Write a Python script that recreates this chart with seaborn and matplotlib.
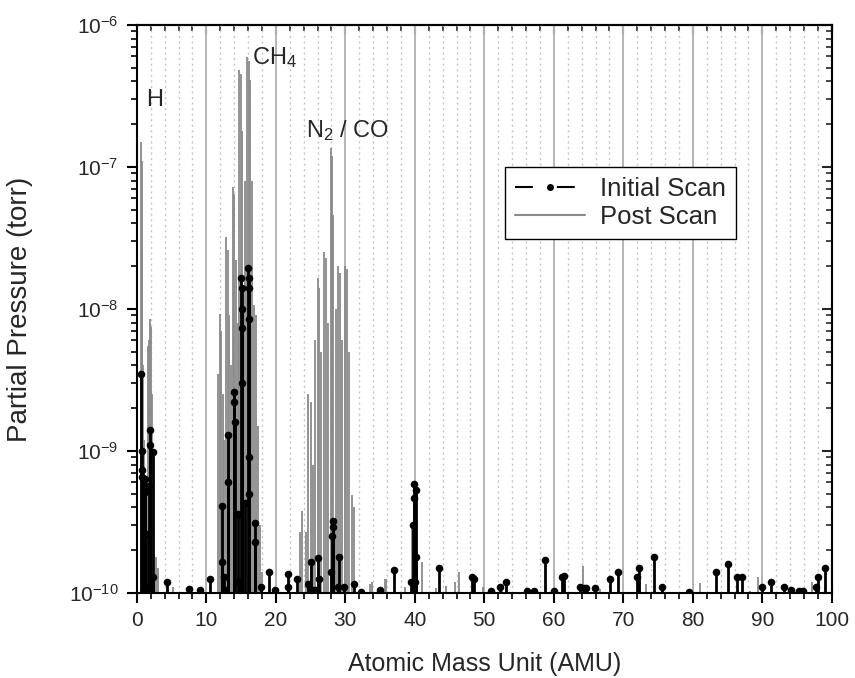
import numpy as np
import pandas as pd
import matplotlib
matplotlib.use("Agg")
import matplotlib.pyplot as plt
import seaborn as sns
from matplotlib.lines import Line2D
from matplotlib.ticker import MultipleLocator, LogLocator, NullFormatter

sns.set_theme(style="white")
plt.rcParams['font.family'] = ['Liberation Sans', 'DejaVu Sans']
plt.rcParams['mathtext.fontset'] = 'custom'
plt.rcParams['mathtext.rm'] = 'Liberation Sans'
plt.rcParams['mathtext.it'] = 'Liberation Sans:italic'
plt.rcParams['mathtext.bf'] = 'Liberation Sans:bold'

# ---- data ----
post_amu = [0.6, 0.7, 0.8, 0.95, 1.1, 1.3, 1.6, 1.8, 1.95, 2.1, 2.25, 2.4, 2.7, 3.0, 5.2, 7.8,
            11.7, 11.9, 12.1, 12.35, 12.6, 12.85, 13.05, 13.3, 13.55, 13.85, 14.05, 14.3, 14.5,
            14.75, 14.95, 15.2, 15.5, 15.85, 16.1, 16.3, 16.6, 16.9, 17.1, 17.4, 17.7, 18.0,
            23.5, 23.8, 24.3, 24.7, 25.0, 25.3, 25.7, 26.0, 26.2, 26.5, 26.9, 27.2, 27.5, 27.9,
            28.1, 28.3, 28.6, 29.0, 29.2, 29.5, 29.9, 30.2, 30.5, 30.9, 31.3, 33.6, 33.8, 35.7,
            35.8, 38.6, 39.6, 40.2, 41.0, 43.1, 44.5, 45.8, 46.4, 49.8, 52.5, 61.6, 64.2, 66.6,
            72.4, 73.2, 81.0, 88.2, 89.4, 97.2]
post_pp = [1.5e-7, 1.1e-7, 2.6e-8, 4e-9, 1.2e-9, 4e-10, 5.5e-9, 6e-9, 8.5e-9, 7.5e-9, 2.5e-9, 2.9e-10, 1.8e-10, 1.5e-10, 1.1e-10, 1.12e-10,
           3.5e-9, 9.2e-9, 7e-9, 2.5e-9, 1.2e-9, 3.2e-8, 2.6e-8, 9e-9, 4e-9, 7.2e-8, 6.5e-8, 2.2e-8, 8e-9,
           4.8e-7, 4.5e-7, 1.8e-7, 8e-8, 5.9e-7, 5.6e-7, 4.1e-7, 8e-8, 1.07e-8, 9e-9, 1.5e-9, 3e-10, 1.4e-10,
           2.7e-10, 3.8e-10, 2.7e-10, 2.5e-9, 2.2e-9, 8e-10, 6e-9, 1.65e-8, 1.4e-8, 5e-9, 2.5e-8, 2.3e-8, 8e-9, 1.36e-7,
           1.2e-7, 4.6e-8, 1e-8, 2e-8, 1.8e-8, 6e-9, 2e-8, 1.9e-8, 5e-9, 4.9e-10, 4e-10, 1.15e-10, 1.2e-10, 1.25e-10,
           1.25e-10, 1.1e-10, 3e-10, 2e-10, 1.65e-10, 1.08e-10, 1.12e-10, 1.2e-10, 1.4e-10, 1.1e-10, 1.1e-10, 1.08e-10, 1.55e-10, 1.07e-10,
           1.2e-10, 1.15e-10, 1.17e-10, 1.04e-10, 1.3e-10, 1.2e-10]

init_amu = [0.65, 0.7, 0.75, 0.8, 1.1, 1.15, 1.2, 1.4, 1.6, 1.75, 1.9, 1.95, 2.3, 2.4,
            4.4, 7.5, 9.1, 10.5,
            12.2, 12.25, 12.5, 12.7, 13.1, 13.15, 14.0, 14.05, 14.1, 14.6, 14.65,
            15.05, 15.08, 15.1, 15.12, 15.15, 15.5, 16.05, 16.08, 16.1, 16.12, 16.15, 16.2,
            17.0, 17.05, 17.9, 19.0, 19.9,
            21.7, 21.75, 23.0, 24.7, 25.0, 25.2, 25.6, 26.1, 26.15, 27.9, 28.15, 28.2, 28.25,
            29.0, 29.1, 29.8, 31.2, 32.3, 35.0, 37.0,
            39.4, 39.8, 39.85, 39.9, 40.0, 40.1, 40.15, 43.5, 48.2, 48.5, 50.9, 52.3, 53.1,
            56.1, 57.2, 58.8, 60.0, 61.2, 61.4, 63.8, 64.3, 64.7, 65.9, 68.1, 69.3, 71.9,
            72.3, 74.4, 75.6, 79.5, 83.3, 85.1, 86.4, 87.1, 90.0, 91.3, 93.1, 94.1, 95.3,
            95.9, 97.7, 98.0, 99.0]
init_pp = [3.5e-9, 1.0e-9, 7.4e-10, 6.6e-10, 5.7e-10, 5.1e-10, 6.3e-10, 1.1e-10, 2.6e-10, 5.7e-10, 1.4e-9, 1.1e-9, 1.3e-10, 9.8e-10,
           1.2e-10, 1.07e-10, 1.05e-10, 1.25e-10,
           4.1e-10, 1.65e-10, 1.3e-10, 1.05e-10, 1.3e-9, 6e-10, 2.6e-9, 2.2e-9, 1.6e-9, 3.6e-10, 1.2e-10,
           1.66e-8, 1.4e-8, 1.0e-8, 7.3e-9, 3e-9, 4.3e-10, 1.95e-8, 1.66e-8, 1.4e-8, 8.5e-9, 9.1e-10, 5e-10,
           3.1e-10, 2.3e-10, 1.1e-10, 1.4e-10, 1.05e-10,
           1.35e-10, 1.1e-10, 1.25e-10, 1.15e-10, 1.65e-10, 1.05e-10, 1.05e-10, 1.75e-10, 1.25e-10, 1.4e-10, 2.5e-10, 3.2e-10, 2.9e-10,
           1.1e-10, 1.8e-10, 1.1e-10, 1.15e-10, 1.02e-10, 1.05e-10, 1.45e-10,
           1.2e-10, 3.0e-10, 4.7e-10, 5.9e-10, 1.2e-10, 5.3e-10, 1.8e-10, 1.5e-10, 1.3e-10, 1.25e-10, 1.03e-10, 1.1e-10, 1.2e-10,
           1.04e-10, 1.04e-10, 1.7e-10, 1.03e-10, 1.3e-10, 1.32e-10, 1.1e-10, 1.08e-10, 1.08e-10, 1.08e-10, 1.25e-10, 1.4e-10, 1.3e-10,
           1.5e-10, 1.8e-10, 1.1e-10, 1.02e-10, 1.4e-10, 1.6e-10, 1.3e-10, 1.3e-10, 1.1e-10, 1.2e-10, 1.1e-10, 1.05e-10, 1.03e-10,
           1.03e-10, 1.1e-10, 1.3e-10, 1.5e-10]

x_ticks = [0, 10, 20, 30, 40, 50, 60, 70, 80, 90, 100]
y_ticks = [1e-10, 1e-9, 1e-8, 1e-7, 1e-6]
y_lim = (1e-10, 1e-6)
series_labels = ["Initial Scan", "Post Scan"]

post = pd.DataFrame({"amu": post_amu, "pp": post_pp})
init = pd.DataFrame({"amu": init_amu, "pp": init_pp})

# ---- figure ----
fig = plt.figure(figsize=(8.55, 6.78), dpi=100)
ax = fig.add_axes([0.160, 0.1254, 0.8129, 0.8378])
ax.set_yscale("log")
ax.set_xlim(0, 100)
ax.set_ylim(*y_lim)

gray = "#8a8a8a"
ax.vlines(post["amu"], y_lim[0], post["pp"], color=gray, lw=1.3, zorder=2)
ax.vlines(init["amu"], y_lim[0], init["pp"], color="black", lw=2.0, zorder=3)
sns.scatterplot(data=init, x="amu", y="pp", ax=ax, color="black", s=30,
                linewidth=0, zorder=4, legend=False)

# grid
ax.xaxis.set_major_locator(MultipleLocator(10))
ax.xaxis.set_minor_locator(MultipleLocator(2))
ax.set_xticks(x_ticks)
ax.set_yticks(y_ticks)
ax.yaxis.set_minor_locator(LogLocator(base=10, subs=np.arange(2, 10), numticks=20))
ax.yaxis.set_minor_formatter(NullFormatter())
ax.set_ylim(*y_lim)
ax.set_axisbelow(True)
ax.grid(which="minor", axis="x", color="#c4c4c4", lw=1.0, ls=(0, (1.5, 2.5)))
ax.grid(which="major", axis="x", color="#b4b4b4", lw=1.4, ls="-")
ax.grid(False, axis="y", which="both")

ax.tick_params(axis="both", which="major", direction="out", length=7, width=1.5,
               color="black", labelsize=15, pad=6)
ax.tick_params(axis="both", which="minor", direction="out", length=4, width=1.2, color="black")
ax.tick_params(axis="x", bottom=True, which="both")
ax.tick_params(axis="y", left=True, which="both")

for sp in ax.spines.values():
    sp.set_color("black")
    sp.set_linewidth(1.5)

secx = ax.secondary_xaxis("top")
secx.set_xticks(x_ticks)
secx.xaxis.set_minor_locator(MultipleLocator(2))
secx.tick_params(which="major", direction="in", length=7, width=1.5,
                 labeltop=False, labelbottom=False)
secx.tick_params(which="minor", direction="in", length=4, width=1.2)
secx.spines["top"].set_linewidth(1.5)

secy = ax.secondary_yaxis("right")
secy.set_yticks(y_ticks)
secy.yaxis.set_minor_locator(LogLocator(base=10, subs=np.arange(2, 10), numticks=20))
secy.yaxis.set_minor_formatter(NullFormatter())
secy.tick_params(which="major", direction="in", length=7, width=1.5,
                 labelright=False, labelleft=False)
secy.tick_params(which="minor", direction="in", length=4, width=1.2)
secy.spines["right"].set_linewidth(1.5)

ax.set_xlabel("Atomic Mass Unit (AMU)", fontsize=18, labelpad=16)
ax.set_ylabel("Partial Pressure (torr)", fontsize=20, labelpad=26)

# annotations
ax.text(1.3, 2.96e-7, "H", fontsize=17, va="center", ha="left")
ax.text(16.6, 5.9e-7, r"CH$_4$", fontsize=17, va="center", ha="left")
ax.text(24.4, 1.8e-7, r"N$_2$ / CO", fontsize=17, va="center", ha="left")

handles = [
    Line2D([], [], color="black", lw=1.5, ls=(0, (8.6, 11.5)), marker="o", markersize=4),
    Line2D([], [], color=gray, lw=1.5, ls="-"),
]
leg = ax.legend(handles, series_labels, loc="upper left", bbox_to_anchor=(0.53, 0.75),
                borderaxespad=0, fontsize=18.5, handlelength=2.7, numpoints=1,
                fancybox=False, frameon=True, labelspacing=0.15, borderpad=0.4,
                handletextpad=0.6, borderaxespad_=None) if False else ax.legend(
                handles, series_labels, loc="upper left", bbox_to_anchor=(0.53, 0.75),
                borderaxespad=0, fontsize=18.5, handlelength=2.7, numpoints=1,
                fancybox=False, frameon=True, labelspacing=0.15, borderpad=0.4,
                handletextpad=0.6)
leg.get_frame().set_edgecolor("black")
leg.get_frame().set_linewidth(1.0)
leg.get_frame().set_alpha(1)

fig.savefig("out.png", dpi=100)
